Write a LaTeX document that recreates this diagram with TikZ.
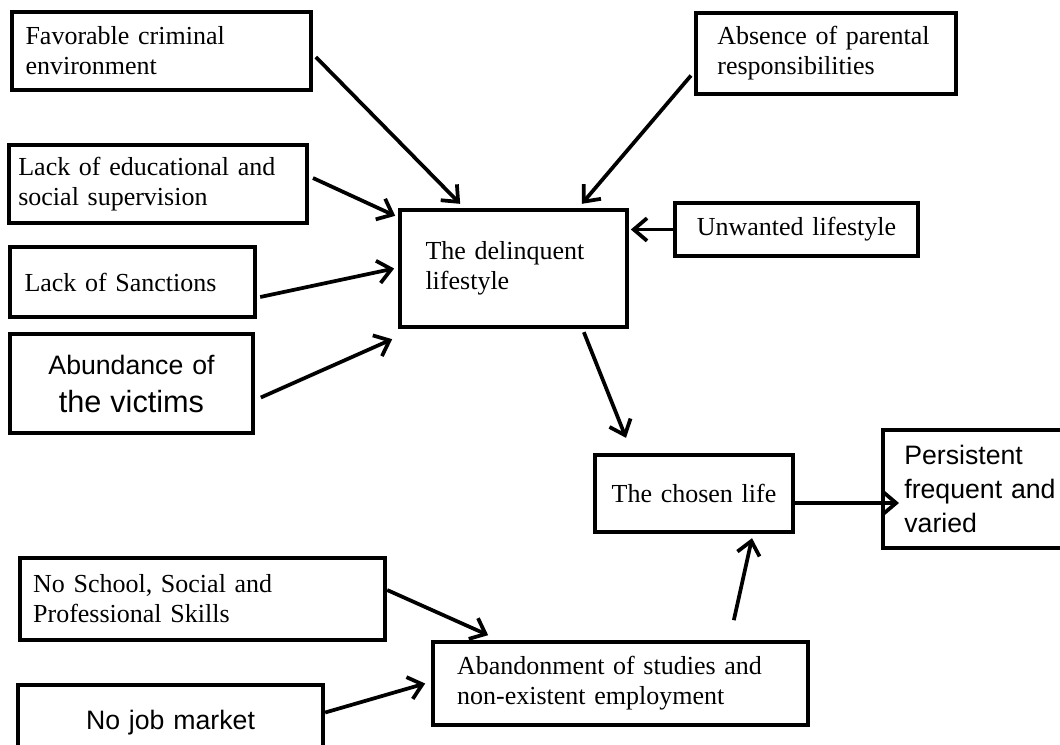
\documentclass[tikz,border=0pt]{standalone}
\usepackage{fontspec}
\setmainfont{Liberation Serif}
\newfontfamily\sansfont{Liberation Sans}
\usetikzlibrary{arrows.meta,calc}
\newcommand\boxfont{\fontsize{19.5}{22.5}\selectfont\fontdimen2\font=3.2pt\relax}

\begin{document}
\begin{tikzpicture}[
  x=0.75pt, y=-0.75pt,
  box/.style={draw, line width=3pt, align=left, font=\boxfont},
  sbox/.style={draw, line width=3pt, align=center, inner xsep=10pt, font=\sansfont\fontsize{20}{25.5}\selectfont},
  link/.style={->, line width=2.8pt},
  >={Straight Barb[length=10pt,width=17pt]}
]
  \useasboundingbox (0,0) rectangle (1060,744);

  % Causes on the left
  \node[box, inner xsep=10pt, text width=204pt, minimum height=58.5pt] (fav) at (161.5,51) {Favorable criminal\\environment};
  \node[box, inner xsep=7pt, text width=209.5pt, minimum height=58.5pt] (educ) at (158,184) {Lack of educational and\\social supervision};
  \node[box, inner xsep=11pt, text width=162pt, minimum height=52.5pt] (sanctions) at (132.5,282) {Lack of Sanctions};
  \node[sbox, text width=162pt, minimum height=74pt] (abundance) at (131.5,383.5) {Abundance of\\[3pt]\fontsize{23}{28}\selectfont the victims};

  % Causes on the right
  \node[box, inner xsep=16pt, text width=163pt, minimum height=61pt] (absence) at (826,53.5) {Absence of parental\\responsibilities};
  \node[box, align=center, inner xsep=10pt, text width=162pt, minimum height=40pt] (unwanted) at (796.5,229.5) {Unwanted lifestyle};

  % Main chain
  \node[box, inner xsep=19pt, text width=132pt, minimum height=88pt] (delinq) at (513.5,268.5) {The delinquent\\lifestyle};
  \node[box, align=center, inner xsep=10pt, text width=128.5pt, minimum height=58pt] (chosen) at (694,493.5) {The chosen life};
  \node[sbox, align=left, inner xsep=16pt, text width=118pt, minimum height=88.5pt] (persistent) at (983,489) {Persistent\\frequent and\\varied};

  % Causes at the bottom
  \node[box, inner xsep=10pt, text width=254pt, minimum height=61.5pt] (noschool) at (202.5,599) {No School, Social and\\Professional Skills};
  \node[sbox, text width=209pt, minimum height=56pt] (nojob) at (170.5,722.5) {No job market};
  \node[box, inner xsep=18pt, text width=245pt, minimum height=62pt] (abandon) at (620.5,683.5) {Abandonment of studies and\\non-existent employment};

  % Into the delinquent lifestyle
  \draw[link] ($(fav.east)+(3,6)$) -- ($(delinq.north west)+(62,-4)$);
  \draw[link] ($(educ.east)+(4,-6)$) -- ($(delinq.north west)+(-3,8)$);
  \draw[link] ($(sanctions.east)+(3,15)$) -- ($(delinq.west)+(-4,0)$);
  \draw[link] ($(abundance.east)+(6,14)$) -- ($(delinq.south west)+(-6,10)$);
  \draw[link] ($(absence.west)+(-3,22)$) -- ($(delinq.north east)+(-47,-4)$);
  \draw[link] (unwanted.west) -- ($(unwanted.west -| delinq.east)+(2,0)$);

  % Chain
  \draw[link] ($(delinq.south east)+(-45,3)$) -- ($(chosen.north west)+(33,-15)$);
  \draw[link] ($(chosen.east)+(0,9.5)$) -- ($(persistent.west)+(18,14)$);

  % Bottom part
  \draw[link] ($(noschool.east)+(0,-9)$) -- ($(abandon.north west)+(57,-5)$);
  \draw[link] ($(nojob.east)+(0,-10)$) -- ($(abandon.west)+(-6,0)$);
  \draw[link] ($(abandon.north east)+(-76,-20)$) -- ($(chosen.south east)+(-43,4)$);

\end{tikzpicture}
\end{document}
